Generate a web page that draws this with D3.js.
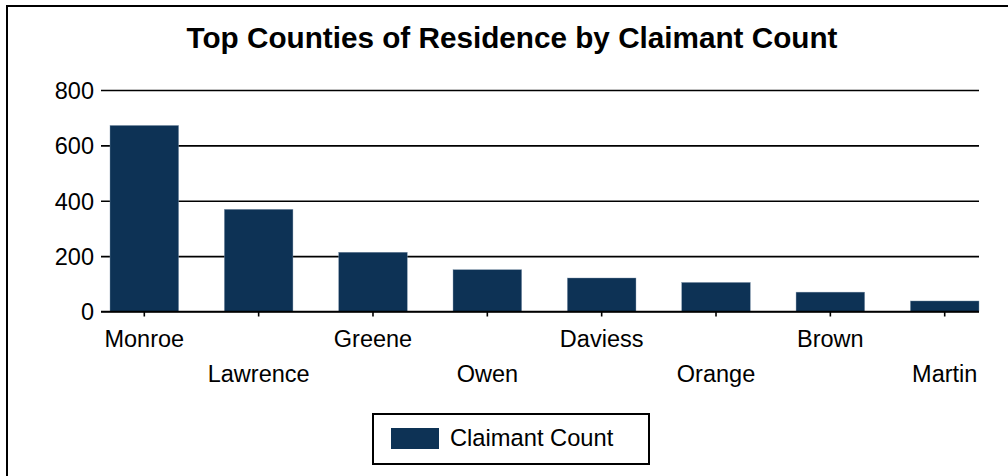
<!DOCTYPE html>
<html>
<head>
<meta charset="utf-8">
<script src="https://cdn.jsdelivr.net/npm/d3@7"></script>
<style>
  body { margin: 0; background: #fff; }
  text { font-family: "Liberation Sans", Arial, sans-serif; fill: #000; }
</style>
</head>
<body>
<div id="chart"></div>
<script>
// chart data
const counties = ["Monroe", "Lawrence", "Greene", "Owen", "Daviess", "Orange", "Brown", "Martin"];
const claimants = [672, 369, 214, 151, 121, 105, 70, 38];
const yTicks = [0, 200, 400, 600, 800];
const seriesName = "Claimant Count";

const W = 1008, H = 476,
  left = 101, right = 979,
  barColor = "#0d3255";

let svg = d3.select("#chart").append("svg")
  .attr("width", W)
  .attr("height", H);

// outer frame (right/bottom edges fall off the picture)
svg.append("rect")
  .attr("x", 7).attr("y", 6)
  .attr("width", 1012).attr("height", 480)
  .style("fill", "none").style("stroke", "#000").style("stroke-width", 2);

svg.append("text")
  .attr("x", 512).attr("y", 48)
  .attr("text-anchor", "middle")
  .style("font-size", "29.7px").style("font-weight", "bold")
  .text("Top Counties of Residence by Claimant Count");

const x = d3.scaleBand().domain(counties).range([110, right]).paddingInner(0.4).paddingOuter(0),
  y = d3.scaleLinear().domain([0, 800]).range([311.5, 90]);

// gridlines + y labels
let yAxis = svg.append("g")
  .attr("transform", "translate(" + right + ",0)")
  .call(d3.axisLeft(y).tickValues(yTicks).tickSize(right - left).tickPadding(7));
yAxis.select(".domain").remove();
yAxis.selectAll("line").style("stroke", "#000").style("stroke-width", 1.6);
yAxis.selectAll("text").style("font-size", "23.5px").attr("dy", "0.36em");

// bars
svg.append("g").selectAll("rect")
  .data(claimants)
  .join("rect")
  .attr("x", (d, i) => x(counties[i]))
  .attr("y", d => y(d))
  .attr("width", x.bandwidth())
  .attr("height", d => y(0) - y(d))
  .style("fill", barColor)
  .style("stroke", "#7f95ab").style("stroke-width", 0.4);

// x axis, labels staggered on two rows
let xAxis = svg.append("g")
  .attr("transform", "translate(0," + y(0) + ")")
  .call(d3.axisBottom(x).tickSize(5).tickPadding(0));
xAxis.select(".domain").remove();
xAxis.selectAll("line").style("stroke", "#000").style("stroke-width", 1.6);
xAxis.selectAll("text")
  .style("font-size", "23.5px")
  .attr("dy", null)
  .attr("y", (d, i) => i % 2 ? 70 : 35);

svg.append("line")
  .attr("x1", left).attr("x2", right)
  .attr("y1", y(0)).attr("y2", y(0))
  .style("stroke", "#000").style("stroke-width", 1.6);

// legend
let legend = svg.append("g");
legend.append("rect")
  .attr("x", 373).attr("y", 414)
  .attr("width", 276).attr("height", 50)
  .style("fill", "#fff").style("stroke", "#000").style("stroke-width", 2);
legend.append("rect")
  .attr("x", 391).attr("y", 428)
  .attr("width", 48).attr("height", 21)
  .style("fill", barColor);
legend.append("text")
  .attr("x", 450).attr("y", 446)
  .style("font-size", "23.7px")
  .text(seriesName);
</script>
</body>
</html>
